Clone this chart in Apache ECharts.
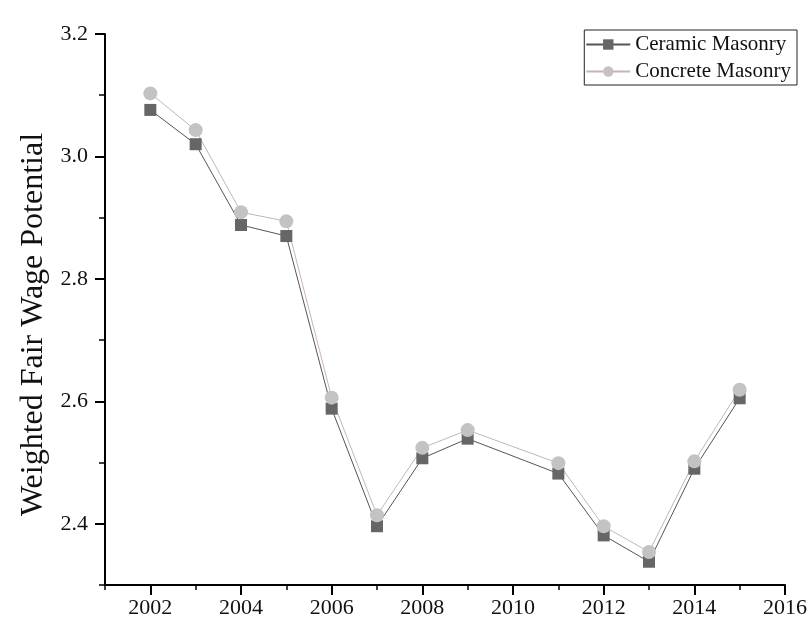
<!DOCTYPE html>
<html>
<head>
<meta charset="utf-8">
<script src="https://cdn.jsdelivr.net/npm/echarts@6/dist/echarts.min.js"></script>
<style>html,body{margin:0;padding:0;background:#fff}#c{width:810px;height:626px}</style>
</head>
<body>
<div id="c"></div>
<script>
const years = [2002, 2003, 2004, 2005, 2006, 2007, 2008, 2009, 2011, 2012, 2013, 2014, 2015];
const ceramic = [3.076, 3.020, 2.888, 2.870, 2.588, 2.396, 2.507, 2.539, 2.482, 2.381, 2.338, 2.490, 2.605];
const concrete = [3.103, 3.043, 2.909, 2.894, 2.606, 2.414, 2.524, 2.553, 2.499, 2.396, 2.354, 2.502, 2.619];
const seriesNames = ['Ceramic Masonry', 'Concrete Masonry'];
const yTitle = 'Weighted Fair Wage Potential';
const xTicks = [2002, 2004, 2006, 2008, 2010, 2012, 2014, 2016];
const xMinorTicks = [2001, 2003, 2005, 2007, 2009, 2011, 2013, 2015];
const yTicks = [2.4, 2.6, 2.8, 3.0, 3.2];
const yMinorTicks = [2.3, 2.5, 2.7, 2.9, 3.1];

const font = '"Liberation Serif", "Times New Roman", serif';
const chart = echarts.init(document.getElementById('c'));
chart.setOption({
  backgroundColor: '#fff',
  animation: false,
  grid: { left: 105, top: 34, right: 23, bottom: 41, containLabel: false },
  legend: {
    right: 13, top: 30,
    orient: 'vertical',
    borderColor: '#222', borderWidth: 1,
    padding: [4, 6, 3, 1],
    itemGap: 6,
    itemWidth: 44, itemHeight: 13,
    textStyle: { fontFamily: font, fontSize: 21, color: '#111' },
    data: seriesNames
  },
  xAxis: [{
    type: 'value', min: 2001, max: 2016, interval: 1, position: 'bottom',
    axisLine: { onZero: false, lineStyle: { color: '#000', width: 2 } },
    axisTick: { length: 10, lineStyle: { width: 2, color: '#000' }, customValues: xTicks },
    axisLabel: { fontFamily: font, fontSize: 22, color: '#111', margin: 12,
      customValues: xTicks, formatter: v => String(v) },
    splitLine: { show: false }
  }, {
    type: 'value', min: 2001, max: 2016, interval: 1, position: 'bottom',
    axisLine: { show: false, onZero: false },
    axisTick: { show: true, length: 5, lineStyle: { width: 1.5, color: '#000' }, customValues: xMinorTicks },
    axisLabel: { show: false },
    splitLine: { show: false }
  }],
  yAxis: [{
    type: 'value', min: 2.3, max: 3.2, interval: 0.1, position: 'left',
    name: yTitle, nameLocation: 'middle', nameGap: 45,
    nameTextStyle: { fontFamily: font, fontSize: 32, color: '#111', padding: [0, 30, 0, 0] },
    axisLine: { show: true, lineStyle: { color: '#000', width: 2 } },
    axisTick: { show: true, length: 10, lineStyle: { width: 2, color: '#000' }, customValues: yTicks },
    axisLabel: { fontFamily: font, fontSize: 22, color: '#111', margin: 17,
      customValues: yTicks, formatter: v => v.toFixed(1) },
    splitLine: { show: false }
  }, {
    type: 'value', min: 2.3, max: 3.2, interval: 0.1, position: 'left',
    axisLine: { show: false },
    axisTick: { show: true, length: 6, lineStyle: { width: 1.5, color: '#000' }, customValues: yMinorTicks },
    axisLabel: { show: false },
    splitLine: { show: false }
  }],
  series: [
    {
      name: seriesNames[0], type: 'line',
      data: years.map((y, i) => [y, ceramic[i]]),
      symbol: 'rect', symbolSize: 12,
      itemStyle: { color: '#666' },
      lineStyle: { color: '#555', width: 1 }
    },
    {
      name: seriesNames[1], type: 'line',
      data: years.map((y, i) => [y, concrete[i]]),
      symbol: 'circle', symbolSize: 14,
      itemStyle: { color: '#c3c3c3' },
      lineStyle: { color: '#c8b4b4', width: 1 }
    }
  ]
});
</script>
</body>
</html>
